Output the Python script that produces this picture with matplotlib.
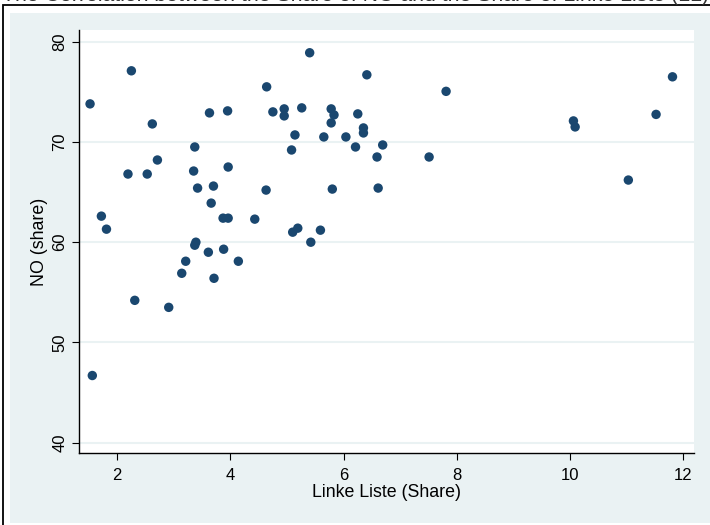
import matplotlib
matplotlib.use("Agg")
import matplotlib.pyplot as plt
from matplotlib.patches import Rectangle

plt.rcParams['font.family'] = ['Liberation Sans', 'DejaVu Sans']

title = "The Correlation between the Share of NO and the Share of Linke Liste (LL)"
x_label = "Linke Liste (Share)"
y_label = "NO (share)"
x_ticks = [2, 4, 6, 8, 10, 12]
y_ticks = [40, 50, 60, 70, 80]

linke_share = [2.25, 1.52, 2.62, 3.37, 2.71, 2.19, 2.53, 3.35, 3.42, 3.70,
               3.96, 3.66, 1.72, 1.81, 3.87, 3.96, 4.43, 4.63, 3.63, 3.95,
               4.64, 4.75, 4.95, 4.95, 5.26, 5.14, 5.08, 5.10, 5.19, 5.40,
               3.37, 3.39, 5.42, 3.61, 3.88, 3.21, 3.14, 3.71, 4.14, 2.31,
               2.91, 1.56, 6.41, 7.81, 5.78, 5.83, 6.25, 5.78, 6.35, 6.35,
               5.65, 6.04, 6.21, 6.69, 6.59, 7.51, 5.80, 6.61, 5.59, 11.81,
               11.52, 10.06, 10.09, 11.03]
no_share = [77.1, 73.8, 71.8, 69.5, 68.2, 66.8, 66.8, 67.1, 65.4, 65.6,
            67.5, 63.9, 62.6, 61.3, 62.4, 62.4, 62.3, 65.2, 72.9, 73.1,
            75.5, 73.0, 73.3, 72.6, 73.4, 70.7, 69.2, 61.0, 61.4, 78.9,
            59.7, 60.0, 60.0, 59.0, 59.3, 58.1, 56.9, 56.4, 58.1, 54.2,
            53.5, 46.7, 76.7, 75.05, 73.3, 72.7, 72.8, 71.9, 71.4, 70.9,
            70.5, 70.5, 69.5, 69.7, 68.5, 68.5, 65.3, 65.4, 61.2, 76.5,
            72.75, 72.1, 71.5, 66.2]

W, H = 710, 525
fig = plt.figure(figsize=(W / 100, H / 100), dpi=100, facecolor='white')

def fx(px):
    return px / W

def fy(py):
    return 1 - py / H

# outer light background
fig.patches.append(Rectangle((fx(10), fy(523)), fx(712) - fx(10), fy(12.7) - fy(523),
                             transform=fig.transFigure, facecolor='#EAF2F3',
                             edgecolor='none', zorder=-2))
# black frame
fig.patches.append(Rectangle((fx(3), fy(530)), fx(715) - fx(3), fy(5) - fy(530),
                             transform=fig.transFigure, facecolor='none',
                             edgecolor='black', linewidth=1.3, zorder=-1))

fig.text(fx(355), fy(0.8), title, ha='center', va='baseline', fontsize=15.3, color='#333333')

ax = fig.add_axes([fx(79.3), fy(453.3), fx(694) - fx(79.3), fy(30) - fy(453.3)])
ax.set_zorder(2)
ax.set_facecolor('white')
ax.set_xlim(1.33, 12.19)
ax.set_ylim(38.94, 81.17)
ax.set_yticks(y_ticks)
ax.set_xticks(x_ticks)
ax.yaxis.grid(True, color='#EAF2F3', linewidth=1.5)
ax.set_axisbelow(True)
for s in ['top', 'right']:
    ax.spines[s].set_visible(False)
for s in ['left', 'bottom']:
    ax.spines[s].set_color('black')
    ax.spines[s].set_linewidth(1.0)
ax.tick_params(axis='both', direction='out', length=5, width=0.8, color='black',
               labelsize=12)
ax.tick_params(axis='x', pad=5.5)
ax.tick_params(axis='y', pad=3.5)
for lbl in ax.get_yticklabels():
    lbl.set_rotation(90)
    lbl.set_va('center')

ax.scatter(linke_share, no_share, s=46, color='#1a476f', edgecolors='none', zorder=3)

ax.set_xlabel(x_label, fontsize=12.8, labelpad=1)
ax.set_ylabel(y_label, fontsize=12.8, labelpad=3)

fig.savefig('out.png', dpi=100, facecolor='white')
